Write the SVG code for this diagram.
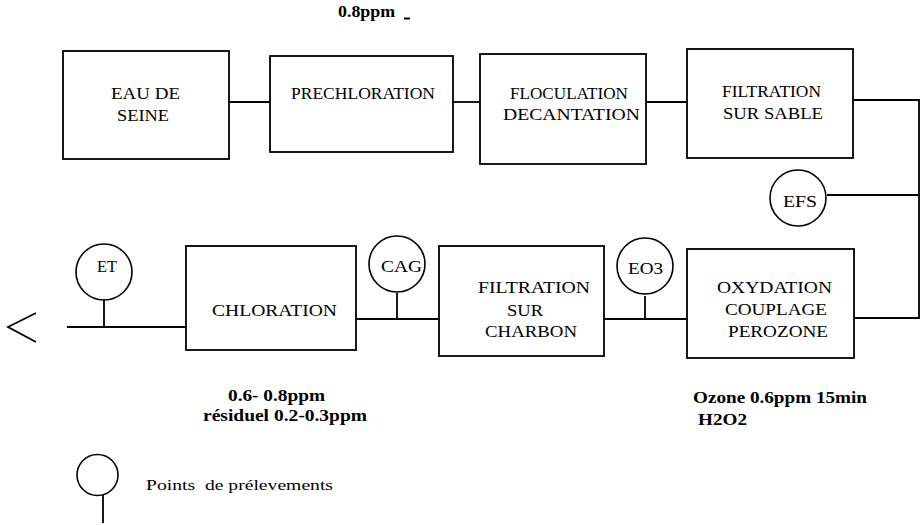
<svg xmlns="http://www.w3.org/2000/svg" width="923" height="525" viewBox="0 0 923 525">
<style>
.box{fill:#fff;stroke:#000;stroke-width:1.8}
.ln{fill:none;stroke:#000;stroke-width:1.8}
.cir{fill:#fff;stroke:#000;stroke-width:1.6}
.t{font-family:"Liberation Serif","Times New Roman",serif;font-size:17.5px;fill:#000}
.b{font-family:"Liberation Serif","Times New Roman",serif;font-size:16px;font-weight:bold;fill:#000}
.r{font-family:"Liberation Serif","Times New Roman",serif;font-size:15px;fill:#000;white-space:pre}
</style>
<rect width="923" height="525" fill="#fff"/>
<g id="connectors">
<line class="ln" x1="229" y1="102" x2="270" y2="102"/>
<line class="ln" x1="453" y1="102" x2="480" y2="102"/>
<line class="ln" x1="646" y1="102" x2="687" y2="102"/>
<polyline class="ln" points="853,100 919,100 919,318 854,318"/>
<line class="ln" x1="827" y1="195" x2="919" y2="195"/>
<line class="ln" x1="604" y1="319" x2="687" y2="319"/>
<line class="ln" x1="645" y1="296" x2="645" y2="319"/>
<line class="ln" x1="356" y1="319" x2="439" y2="319"/>
<line class="ln" x1="397" y1="293" x2="397" y2="319"/>
<line class="ln" x1="67" y1="327" x2="186" y2="327"/>
<line class="ln" x1="104" y1="300" x2="104" y2="327"/>
<polyline class="ln" points="36,313 8,327 36,342"/>
</g>
<g id="eau-de-seine">
<rect class="box" x="63" y="51" width="166" height="108"/>
<text class="t" x="111" y="99" textLength="69" lengthAdjust="spacingAndGlyphs">EAU DE</text>
<text class="t" x="117" y="121" textLength="52" lengthAdjust="spacingAndGlyphs">SEINE</text>
</g>
<g id="prechloration">
<rect class="box" x="270" y="56" width="183" height="96"/>
<text class="t" x="291" y="99" textLength="144" lengthAdjust="spacingAndGlyphs">PRECHLORATION</text>
</g>
<g id="floculation">
<rect class="box" x="480" y="54" width="166" height="110"/>
<text class="t" x="510" y="99" textLength="118" lengthAdjust="spacingAndGlyphs">FLOCULATION</text>
<text class="t" x="503" y="120" textLength="137" lengthAdjust="spacingAndGlyphs">DECANTATION</text>
</g>
<g id="filtration-sable">
<rect class="box" x="687" y="49" width="166" height="109"/>
<text class="t" x="722" y="97" textLength="99" lengthAdjust="spacingAndGlyphs">FILTRATION</text>
<text class="t" x="723" y="119" textLength="100" lengthAdjust="spacingAndGlyphs">SUR SABLE</text>
</g>
<g id="efs">
<circle class="cir" cx="798" cy="198" r="28"/>
<text class="t" x="783" y="207" textLength="34" lengthAdjust="spacingAndGlyphs">EFS</text>
</g>
<g id="oxydation">
<rect class="box" x="687" y="249" width="167" height="109"/>
<text class="t" x="717" y="293" textLength="115" lengthAdjust="spacingAndGlyphs">OXYDATION</text>
<text class="t" x="725" y="315" textLength="102" lengthAdjust="spacingAndGlyphs">COUPLAGE</text>
<text class="t" x="728" y="337" textLength="100" lengthAdjust="spacingAndGlyphs">PEROZONE</text>
</g>
<g id="eo3">
<circle class="cir" cx="645" cy="266" r="28"/>
<text class="t" x="628" y="274" textLength="35" lengthAdjust="spacingAndGlyphs">EO3</text>
</g>
<g id="filtration-charbon">
<rect class="box" x="439" y="246" width="165" height="110"/>
<text class="t" x="478" y="293" textLength="112" lengthAdjust="spacingAndGlyphs">FILTRATION</text>
<text class="t" x="507" y="316" textLength="36" lengthAdjust="spacingAndGlyphs">SUR</text>
<text class="t" x="485" y="337" textLength="92" lengthAdjust="spacingAndGlyphs">CHARBON</text>
</g>
<g id="cag">
<circle class="cir" cx="397" cy="264" r="28"/>
<text class="t" x="381" y="272" textLength="41" lengthAdjust="spacingAndGlyphs">CAG</text>
</g>
<g id="chloration">
<rect class="box" x="186" y="246" width="170" height="104"/>
<text class="t" x="212" y="316" textLength="125" lengthAdjust="spacingAndGlyphs">CHLORATION</text>
</g>
<g id="et">
<circle class="cir" cx="104" cy="272" r="28"/>
<text class="t" x="97" y="272" textLength="20" lengthAdjust="spacingAndGlyphs">ET</text>
</g>
<g id="notes">
<text class="b" x="338" y="17" textLength="57" lengthAdjust="spacingAndGlyphs">0.8ppm</text>
<line x1="404" y1="18.5" x2="410" y2="18.5" stroke="#000" stroke-width="2"/>
<text class="b" x="228" y="401" textLength="97" lengthAdjust="spacingAndGlyphs">0.6- 0.8ppm</text>
<text class="b" x="203" y="421" textLength="164" lengthAdjust="spacingAndGlyphs">résiduel 0.2-0.3ppm</text>
<text class="b" x="693" y="403" textLength="174" lengthAdjust="spacingAndGlyphs">Ozone 0.6ppm 15min</text>
<text class="b" x="698" y="425" textLength="49" lengthAdjust="spacingAndGlyphs">H2O2</text>
</g>
<g id="legend">
<circle class="cir" cx="97.5" cy="475" r="20.5"/>
<line class="ln" x1="103" y1="495" x2="103" y2="523" stroke-width="1.4"/>
<text class="r" x="146" y="490" textLength="187" lengthAdjust="spacingAndGlyphs">Points  de prélevements</text>
</g>
</svg>
